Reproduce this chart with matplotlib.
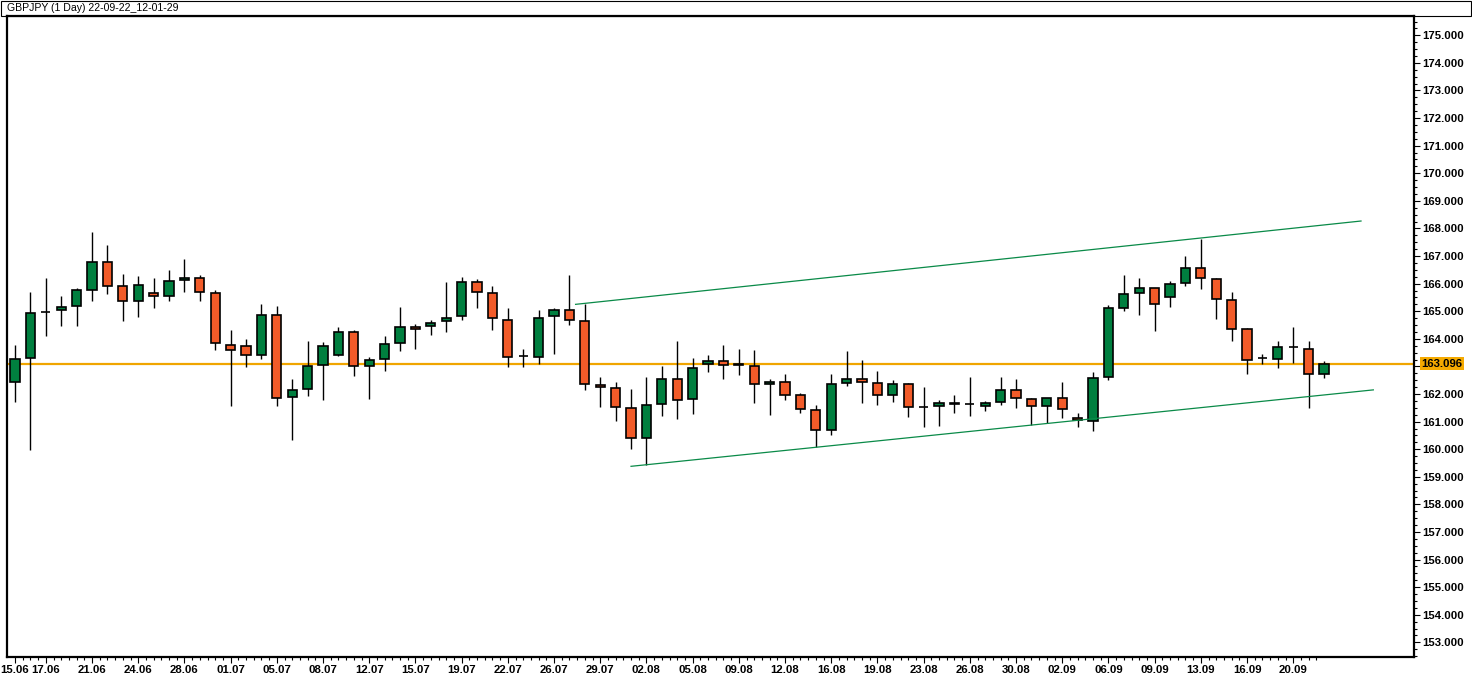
import numpy as np
import pandas as pd
import matplotlib
matplotlib.use('Agg')
import matplotlib.pyplot as plt
from matplotlib.patches import Rectangle
from matplotlib.ticker import MultipleLocator, FixedLocator

# GBPJPY daily candles, 15.06.2022 - 22.09.2022 (broker has Sunday bars)
dates = pd.bdate_range('2022-06-15', '2022-09-22', freq='C', weekmask='Sun Mon Tue Wed Thu Fri')

opens = [162.43, 163.32, 164.96, 165.03, 165.20, 165.78, 166.78, 165.90, 165.36, 165.65,
         165.54, 166.12, 166.19, 165.65, 163.79, 163.75, 163.43, 164.88, 161.90, 162.19,
         163.06, 163.40, 164.23, 163.02, 163.28, 163.86, 164.44, 164.48, 164.63, 164.81,
         166.05, 165.65, 164.70, 163.37, 163.35, 164.81, 165.03, 164.66, 162.33, 162.22,
         161.49, 160.40, 161.64, 162.55, 161.82, 163.10, 163.21, 163.07, 163.02, 162.37,
         162.44, 161.97, 161.42, 160.69, 162.40, 162.55, 162.40, 161.97, 162.37, 161.53,
         161.57, 161.64, 161.64, 161.57, 161.71, 162.15, 161.82, 161.57, 161.86, 161.13,
         161.02, 162.62, 165.13, 165.65, 165.83, 165.50, 166.01, 166.56, 166.16, 165.39,
         164.34, 163.29, 163.28, 163.72, 163.64, 162.73]
highs = [163.77, 165.71, 166.19, 165.55, 165.83, 167.87, 167.41, 166.35, 166.28, 166.19,
         166.50, 166.89, 166.30, 165.76, 164.31, 163.98, 165.26, 165.19, 162.55, 163.91,
         163.88, 164.43, 164.31, 163.35, 164.09, 165.15, 164.52, 164.70, 166.05, 166.23,
         166.16, 165.90, 165.10, 163.64, 165.03, 165.10, 166.31, 165.28, 162.63, 162.45,
         162.20, 162.63, 163.02, 163.91, 163.31, 163.42, 163.79, 163.62, 163.58, 162.55,
         162.74, 162.04, 161.61, 162.71, 163.55, 163.22, 162.82, 162.49, 162.40, 162.27,
         161.78, 161.97, 162.63, 161.75, 162.63, 162.56, 161.86, 161.86, 162.45, 161.31,
         162.81, 165.22, 166.32, 166.19, 165.84, 166.10, 167.01, 167.63, 166.19, 165.70,
         164.41, 163.44, 163.91, 164.42, 163.91, 163.18]
lows = [161.70, 159.97, 164.11, 164.46, 164.46, 165.38, 165.62, 164.65, 164.80, 165.13,
        165.38, 165.71, 165.38, 163.58, 161.56, 162.98, 163.27, 161.56, 160.34, 161.92,
        161.80, 163.37, 162.67, 161.82, 162.83, 163.56, 163.63, 164.14, 164.25, 164.69,
        165.12, 164.32, 162.97, 162.97, 163.08, 163.45, 164.50, 162.14, 161.52, 161.01,
        159.99, 159.44, 161.19, 161.08, 161.26, 162.79, 162.54, 162.68, 161.66, 161.23,
        161.77, 161.30, 160.07, 160.53, 162.29, 161.66, 161.59, 161.70, 161.15, 160.79,
        160.83, 161.30, 161.19, 161.37, 161.59, 161.48, 160.87, 160.95, 161.12, 160.79,
        160.65, 162.50, 165.02, 164.86, 164.29, 165.16, 165.93, 165.82, 164.73, 163.92,
        162.72, 163.09, 162.94, 163.12, 161.48, 162.58]
closes = [163.28, 164.92, 164.99, 165.17, 165.76, 166.78, 165.93, 165.36, 165.94, 165.54,
          166.09, 166.19, 165.68, 163.86, 163.61, 163.43, 164.88, 161.86, 162.15, 163.03,
          163.75, 164.23, 163.03, 163.24, 163.82, 164.44, 164.37, 164.59, 164.77, 166.05,
          165.68, 164.74, 163.35, 163.39, 164.74, 165.03, 164.70, 162.37, 162.26, 161.53,
          160.40, 161.60, 162.55, 161.78, 162.95, 163.21, 163.06, 163.05, 162.37, 162.44,
          161.97, 161.46, 160.69, 162.37, 162.55, 162.44, 161.97, 162.37, 161.53, 161.54,
          161.68, 161.67, 161.64, 161.68, 162.15, 161.86, 161.57, 161.86, 161.46, 161.06,
          162.59, 165.10, 165.61, 165.83, 165.28, 165.98, 166.56, 166.19, 165.43, 164.37,
          163.24, 163.29, 163.72, 163.70, 162.73, 163.096]

# channel lines: (bar position, price) endpoints
upper_x = [36.4, 87.4]
upper_y = [165.25, 168.27]
lower_x = [40.0, 88.2]
lower_y = [159.38, 162.15]

title = 'GBPJPY (1 Day) 22-09-22_12-01-29'

W, H = 1472, 697
GREEN = '#007F3F'
RED = '#F25B29'
ORANGE = '#F0A500'
LAB_FAMILY = ['Liberation Sans Narrow', 'Liberation Sans']
LAB_SIZE = 8.2

o = np.array(opens)
h = np.array(highs)
l = np.array(lows)
c = np.array(closes)
x = np.arange(len(o))
up = c >= o
colors = np.where(up, GREEN, RED)

fig = plt.figure(figsize=(W / 100, H / 100), dpi=100)
ax = fig.add_axes([6.7 / W, 1 - 656.7 / H, (1414.3 - 6.7) / W, (656.7 - 16) / H])

ax.vlines(x, l, h, color='black', lw=1.0, zorder=2)
ax.bar(x, np.abs(c - o), bottom=np.minimum(o, c), width=0.6, color=colors,
       edgecolor='black', linewidth=1.2, zorder=3)

ax.plot(upper_x, upper_y, color='#0A8A48', lw=0.9, zorder=4)
ax.plot(lower_x, lower_y, color='#0A8A48', lw=0.9, zorder=4)

last = closes[-1]
ax.axhline(last, color=ORANGE, lw=1.6, zorder=1)

ax.set_xlim(-0.54, 90.86)
ax.set_ylim(152.48, 175.70)

# x axis: labels every 3 bars
tick_idx = [0] + list(range(2, len(x) - 1, 3))
ax.xaxis.set_major_locator(FixedLocator(tick_idx))
ax.set_xticklabels([dates[i].strftime('%d.%m') for i in tick_idx])
ax.xaxis.set_minor_locator(FixedLocator(np.arange(0, len(x) - 1, 0.5)))

# y axis on the right
ax.yaxis.tick_right()
yt = np.arange(153, 176, 1)
ax.set_yticks(yt)
ax.set_yticklabels(['' if v == round(last) else f'{v:.3f}' for v in yt])
ax.yaxis.set_minor_locator(MultipleLocator(0.25))

for t in ax.get_xticklabels() + ax.get_yticklabels():
    t.set_fontfamily(LAB_FAMILY)
    t.set_fontsize(LAB_SIZE)
    t.set_fontweight('bold')

ax.tick_params(axis='both', which='major', length=4, width=0.8, color='black', pad=2)
ax.tick_params(axis='both', which='minor', length=2, width=0.8, color='black')
for s in ax.spines.values():
    s.set_linewidth(1.6)

ax.text(1.005, last, f'{last:.3f}', transform=ax.get_yaxis_transform(),
        ha='left', va='center', fontsize=LAB_SIZE, fontweight='bold',
        family=LAB_FAMILY, clip_on=False, zorder=10,
        bbox=dict(boxstyle='square,pad=0.15', fc='#F5AA00', ec='none'))

# header bar
fig.add_artist(Rectangle((0.5 / W, 1 - 16 / H), 1470 / W, 15.5 / H,
                         transform=fig.transFigure, fill=False, ec='black', lw=0.8))
fig.text(7 / W, 1 - 8 / H, title, ha='left', va='center', fontsize=7.6,
         family='Liberation Sans')

fig.savefig('out.png', dpi=100)
